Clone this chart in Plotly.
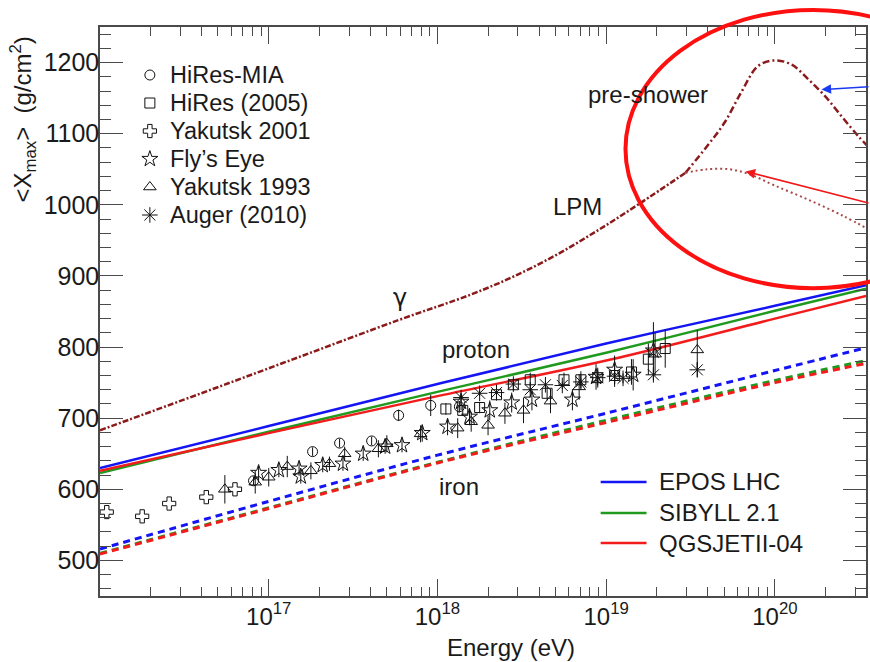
import plotly.graph_objects as go

# ---------------- data (log10 of energy in eV, <Xmax> in g/cm^2) ----------------
model_logE = [16.0, 17.0, 18.0, 19.0, 20.0, 20.54]
epos_p = [630, 689, 748, 805, 858, 887]
sibyll_p = [623, 681, 737, 792, 851, 882]
qgsjet_p = [626, 679, 731, 781, 840, 872]
epos_fe = [516, 583, 648, 707, 767, 799]
sibyll_fe = [510, 574, 638, 697, 753, 781]
qgsjet_fe = [509, 573, 637, 694, 750, 777]

gamma_logE = [16.0, 16.6, 17.18, 17.77, 18.2, 18.45, 18.7, 18.95, 19.2, 19.47]
gamma_x = [683, 735, 786, 838, 874, 899, 929, 964, 1002, 1045]
preshower_logE = [19.47, 19.6, 19.7, 19.8, 19.9, 20.0, 20.1, 20.2, 20.3, 20.4, 20.5, 20.56]
preshower_x = [1045, 1083, 1115, 1158, 1195, 1203, 1197, 1176, 1152, 1123, 1095, 1080]
lpm_logE = [19.47, 19.6, 19.73, 19.85, 20.0, 20.2, 20.4, 20.56]
lpm_x = [1045, 1050, 1050, 1043, 1027, 1007, 985, 965]

hires_mia_logE = [16.91, 17.26, 17.42, 17.61, 17.77, 17.96, 18.13]
hires_mia_x = [612, 653, 665, 668, 704, 718, 716]
hires_mia_err = [6, 6, 6, 6, 8, 15, 8]

hires05_logE = [18.05, 18.15, 18.25, 18.35, 18.45, 18.55, 18.65, 18.75, 18.85, 18.95, 19.05, 19.15, 19.25, 19.35]
hires05_x = [713, 711, 715, 733, 747, 754, 735, 754, 754, 757, 760, 765, 783, 798]
hires05_err = [8, 8, 8, 8, 8, 10, 10, 10, 12, 14, 16, 18, 22, 27]

yak01_logE = [16.04, 16.25, 16.41, 16.63, 16.80]
yak01_x = [568, 562, 580, 589, 600]

flys_logE = [16.94, 17.06, 17.18, 17.19, 17.32, 17.44, 17.56, 17.69, 17.79, 17.91, 18.06, 18.14,
             18.19, 18.31, 18.44, 18.56, 18.80, 18.94, 19.05, 19.16, 19.28]
flys_x = [623, 627, 629, 618, 634, 636, 650, 660, 662, 679, 688, 723,
          702, 711, 722, 726, 726, 758, 768, 761, 795]
flys_err = [10, 10, 10, 10, 10, 10, 10, 10, 10, 12, 12, 12, 12, 14, 14, 15, 15, 18, 20, 22, 40]

yak93_logE = [16.74, 16.92, 17.00, 17.11, 17.25, 17.36, 17.45, 17.65, 17.70, 17.90, 18.12, 18.20,
              18.30, 18.40, 18.51, 18.67, 18.84, 19.29, 19.54]
yak93_x = [600, 610, 617, 632, 626, 636, 650, 657, 664, 678, 686, 695, 690, 707, 711, 724, 744, 790, 796]
yak93_err = [20, 16, 13, 15, 12, 10, 10, 12, 12, 12, 14, 14, 14, 15, 18, 17, 18, 30, 28]

auger_logE = [18.14, 18.25, 18.35, 18.45, 18.55, 18.64, 18.74, 18.85, 18.95, 19.05, 19.10, 19.28, 19.54]
auger_x = [729, 735, 736, 748, 740, 747, 746, 751, 757, 759, 756, 761, 768]
auger_err = [4, 4, 4, 4, 4, 5, 5, 5, 6, 6, 7, 8, 10]

data_names = ["HiRes-MIA", "HiRes (2005)", "Yakutsk 2001", "Fly\u2019s Eye", "Yakutsk 1993", "Auger (2010)"]
model_names = ["EPOS LHC", "SIBYLL 2.1", "QGSJETII-04"]

x_tick_vals = [1e17, 1e18, 1e19, 1e20]
x_tick_text = ["10<sup>17</sup>", "10<sup>18</sup>", "10<sup>19</sup>", "10<sup>20</sup>"]
x_minor_vals = [m * 10.0 ** d for d in range(16, 21) for m in range(2, 10)]
y_tick_vals = [500, 600, 700, 800, 900, 1000, 1100, 1200]

FONT = "Liberation Sans, Arial, sans-serif"
TXT = "#1a1a1a"
MK = "#111111"
BLUE = "#1414f5"
GREEN = "#1f9a1f"
RED = "#f21c1c"
DARKRED = "#8b1a1a"


def E(v):
    return [10.0 ** a for a in v]


fig = go.Figure()

# gamma curves
fig.add_trace(go.Scatter(x=E(gamma_logE), y=gamma_x, mode="lines",
                         line=dict(color=DARKRED, width=2.5, dash="6px,2px,2px,2px", shape="spline")))
fig.add_trace(go.Scatter(x=E(preshower_logE), y=preshower_x, mode="lines",
                         line=dict(color=DARKRED, width=2.5, dash="7px,3px,2px,3px", shape="spline")))
fig.add_trace(go.Scatter(x=E(lpm_logE), y=lpm_x, mode="lines",
                         line=dict(color="#a94848", width=2, dash="2px,3px", shape="spline")))

# iron (dashed)
for vals, col in [(sibyll_fe, GREEN), (qgsjet_fe, RED), (epos_fe, BLUE)]:
    fig.add_trace(go.Scatter(x=E(model_logE), y=vals, mode="lines",
                             line=dict(color=col, width=3, dash="7px,5px", shape="spline")))

# proton (solid)
model_cols = [BLUE, GREEN, RED]
for vals, col, name in zip([epos_p, sibyll_p, qgsjet_p], model_cols, model_names):
    fig.add_trace(go.Scatter(x=E(model_logE), y=vals, mode="lines", name=name,
                             line=dict(color=col, width=2.5, shape="spline")))

symbols = ["circle-open", "square-open", "cross-open", "star-open", "triangle-up-open", "asterisk-open"]
sizes = [10, 10, 11, 12, 11, 13]
sets = [(hires_mia_logE, hires_mia_x, hires_mia_err), (hires05_logE, hires05_x, hires05_err),
        (yak01_logE, yak01_x, None), (flys_logE, flys_x, flys_err),
        (yak93_logE, yak93_x, yak93_err), (auger_logE, auger_x, auger_err)]

for (lx, yv, err), name, sym, sz in zip(sets, data_names, symbols, sizes):
    kw = {}
    if err is not None:
        kw["error_y"] = dict(type="data", array=err, visible=True, color=MK, thickness=1, width=0)
    fig.add_trace(go.Scatter(x=E(lx), y=yv, mode="markers", name=name,
                             marker=dict(symbol=sym, size=sz, color=MK, line=dict(color=MK, width=1)),
                             **kw))

# ---- hand-drawn legends on a hidden overlay axis (0..1 both ways) ----
leg1_rows = [0.9156, 0.8664, 0.8172, 0.768, 0.7188, 0.6696]
for name, sym, sz, ry in zip(data_names, symbols, sizes, leg1_rows):
    fig.add_trace(go.Scatter(x=[0.0651], y=[ry], xaxis="x2", yaxis="y2", mode="markers",
                             cliponaxis=False, hoverinfo="skip",
                             marker=dict(symbol=sym, size=sz, color=MK, line=dict(color=MK, width=1))))
leg2_rows = [0.2004, 0.1459, 0.0931]
for name, col, ry in zip(model_names, model_cols, leg2_rows):
    fig.add_trace(go.Scatter(x=[0.6536, 0.7135], y=[ry, ry], xaxis="x2", yaxis="y2", mode="lines",
                             cliponaxis=False, hoverinfo="skip", line=dict(color=col, width=2.5)))

axis_col = "#4a4a4a"
xaxis = dict(type="log", range=[16.0, 20.54], showline=True, linecolor=axis_col, linewidth=1.5,
             mirror="ticks", ticks="inside", ticklen=17, tickwidth=1.2, tickcolor=axis_col,
             tickvals=x_tick_vals, ticktext=x_tick_text, showgrid=False, zeroline=False,
             tickfont=dict(family=FONT, size=24, color=TXT), ticklabelstandoff=-2,
             minor=dict(tickvals=x_minor_vals, ticks="inside", ticklen=9, tickcolor=axis_col,
                        showgrid=False))
yaxis = dict(range=[450, 1250], showline=True, linecolor=axis_col, linewidth=1.5,
             mirror="ticks", ticks="inside", ticklen=23, tickwidth=1.2, tickcolor=axis_col,
             tickvals=y_tick_vals, showgrid=False, zeroline=False,
             tickfont=dict(family=FONT, size=25, color=TXT), ticklabelstandoff=-6,
             minor=dict(dtick=20, ticks="inside", ticklen=11, tickcolor=axis_col, showgrid=False))

ann_font = dict(family=FONT, size=24, color=TXT)
annotations = [
    dict(text="Energy (eV)", xref="paper", yref="paper", x=0.536, y=-0.09, showarrow=False,
         xanchor="center", yanchor="middle", font=ann_font),
    dict(text="&lt;X<sub>max</sub>&gt;  (g/cm<sup>2</sup>)", xref="paper", yref="paper",
         x=-0.1, y=0.838, textangle=-90, showarrow=False, xanchor="center", yanchor="middle",
         font=ann_font),
    dict(text="\u03b3", x=17.78, y=869, showarrow=False,
         font=dict(family="DejaVu Sans, sans-serif", size=24, color=TXT)),
    dict(text="proton", x=18.23, y=797, showarrow=False, font=ann_font),
    dict(text="iron", x=18.13, y=604, showarrow=False, font=ann_font),
    dict(text="LPM", x=18.83, y=998, showarrow=False, font=ann_font),
    dict(text="pre-shower", x=19.25, y=1155, showarrow=False, font=ann_font),
    dict(text="", x=20.276, y=1162, showarrow=True, ax=52, ay=-3, arrowcolor="#1a3cf0",
         arrowwidth=1.6, arrowhead=2, arrowsize=1.2),
    dict(text="", x=19.826, y=1047, showarrow=True, ax=128, ay=32, arrowcolor="#f01818",
         arrowwidth=1.6, arrowhead=2, arrowsize=1.2),
]
for name, ry in zip(data_names, leg1_rows):
    annotations.append(dict(text=name, xref="paper", yref="paper", x=0.089, y=ry, showarrow=False,
                            xanchor="left", yanchor="middle",
                            font=dict(family=FONT, size=23.5, color=TXT)))
for name, ry in zip(model_names, leg2_rows):
    annotations.append(dict(text=name, xref="paper", yref="paper", x=0.7266, y=ry, showarrow=False,
                            xanchor="left", yanchor="middle", font=ann_font))

fig.update_layout(
    width=870, height=662,
    margin=dict(l=100, r=2, t=27, b=66),
    paper_bgcolor="white", plot_bgcolor="white",
    font=dict(family=FONT, size=22, color=TXT),
    showlegend=False,
    xaxis=xaxis, yaxis=yaxis,
    xaxis2=dict(overlaying="x", range=[0, 1], visible=False, anchor="y2"),
    yaxis2=dict(overlaying="y", range=[0, 1], visible=False, anchor="x2"),
    annotations=annotations,
    shapes=[dict(type="circle", xref="paper", yref="paper", x0=0.686, x1=1.176, y0=0.541, y1=1.03,
                 line=dict(color="#ff1010", width=4), layer="above")],
)

fig.write_html("out.html", config={"displayModeBar": False},
               post_script="document.body.style.margin='0';document.body.style.overflow='hidden';")
